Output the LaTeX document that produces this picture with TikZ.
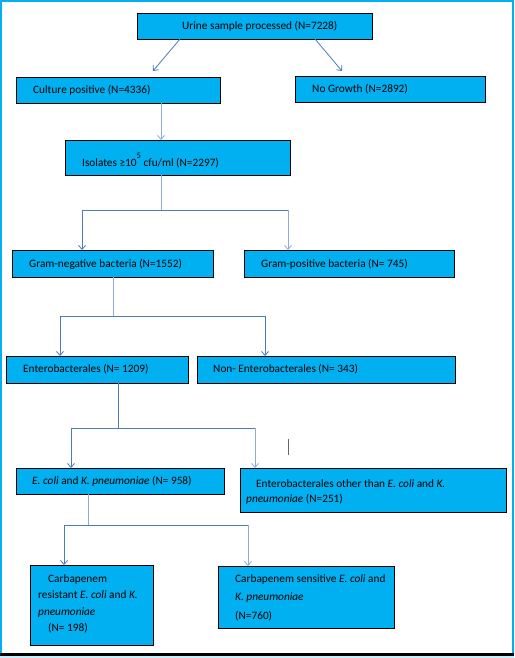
\documentclass[tikz,border=0pt]{standalone}
\usepackage{fontspec}
\setmainfont{Carlito}
\usetikzlibrary{arrows.meta}
\definecolor{boxfill}{HTML}{00B0F0}
\definecolor{frame}{HTML}{00B0F0}
\definecolor{lnA}{HTML}{4A7EBB}
\definecolor{lnB}{HTML}{8EACD6}
\definecolor{strip}{HTML}{C9EEFB}
\tikzset{
  box/.style={draw=black, line width=0.8pt, fill=boxfill, rectangle, inner sep=0pt, outer sep=0pt, anchor=north west},
  txt/.style={anchor=west, inner sep=0pt, font=\fontsize{11.3}{16.5}\selectfont, align=left},
  conA/.style={draw=lnA, line width=0.8pt},
  conB/.style={draw=lnB, line width=0.8pt},
  tipA/.style={-{Straight Barb[length=4pt,width=7pt]}}
}
\begin{document}
\begin{tikzpicture}[x=1pt,y=-1pt]
\useasboundingbox (0,0) rectangle (514,658);
% frame
\fill[white] (0,0) rectangle (514,658);
\fill[strip] (0,655.5) rectangle (514,658);
\draw[frame, line width=1.6pt] (0.8,654) -- (0.8,0.8) -- (513.2,0.8) -- (513.2,654);
\draw[black, line width=3pt] (0,654.5) -- (514,654.5);

% boxes
\node[box, minimum width=235, minimum height=26] (urine) at (137,13) {};
\node[box, minimum width=204, minimum height=26] (cult) at (16,77) {};
\node[box, minimum width=190, minimum height=26] (nog) at (295,76) {};
\node[box, minimum width=225, minimum height=35] (isol) at (65,140) {};
\node[box, minimum width=201, minimum height=27] (gneg) at (12,250) {};
\node[box, minimum width=210, minimum height=27] (gpos) at (244,250) {};
\node[box, minimum width=182, minimum height=27] (ent) at (6,356) {};
\node[box, minimum width=258, minimum height=27] (nent) at (197,356) {};
\node[box, minimum width=208, minimum height=26] (eck) at (16,468) {};
\node[box, minimum width=266, minimum height=44] (oth) at (240,468) {};
\node[box, minimum width=123, minimum height=80] (cr) at (30,565) {};
\node[box, minimum width=176, minimum height=62] (cs) at (218,566) {};

% texts
\node[txt] (turine) at (182,26) {Urine sample processed (N=7228)};
\node[txt] (tcult) at (33,90) {Culture positive (N=4336)};
\node[txt] (tnog) at (312,89) {No Growth (N=2892)};
\node[txt] (tisol) at (82,161) {Isolates ≥10\raisebox{8pt}{\fontsize{8.5}{8.5}\selectfont 5} cfu/ml (N=2297)};
\node[txt] (tgneg) at (29,264) {Gram-negative bacteria (N=1552)};
\node[txt] (tgpos) at (261,264) {Gram-positive bacteria (N= 745)};
\node[txt] (tent) at (23,369) {Enterobacterales (N= 1209)};
\node[txt] (tnent) at (213,369) {Non- Enterobacterales (N= 343)};
\node[txt] (teck) at (32,481) {\textit{E. coli} and \textit{K. pneumoniae} (N= 958)};
\node[txt, font=\fontsize{11.3}{15}\selectfont] (toth) at (246,491.5) {\hspace{10pt}Enterobacterales other than \textit{E. coli} and \textit{K.}\\\textit{pneumoniae} (N=251)};
\node[txt] (tcr) at (38,604) {\hspace{10pt}Carbapenem\\resistant \textit{E. coli} and \textit{K.}\\\textit{pneumoniae}\\\hspace{10pt}(N= 198)};
\node[txt, font=\fontsize{11.3}{18.5}\selectfont] (tcs) at (235,597.5) {Carbapenem sensitive \textit{E. coli} and\\\textit{K. pneumoniae}\\(N=760)};

% connectors
\coordinate (a1) at (153,71);
\coordinate (a2) at (342,71);
\draw[conA, tipA] ([xshift=43]urine.south west) -- (a1);
\draw[conA, tipA] ([xshift=178]urine.south west) -- (a2);

\coordinate (c1) at (161,0);
\draw[conB, tipA] (cult.south -| c1) -- (isol.north -| c1);

\coordinate (j1) at (161,210);
\coordinate (b1l) at (82,210);
\coordinate (b1r) at (288,210);
\draw[conB] (isol.south -| j1) -- (j1);
\draw[conA] (b1l) -- (b1r);
\draw[conA, tipA] (b1l) -- (gneg.north -| b1l);
\draw[conB, tipA] (b1r) -- (gpos.north -| b1r);

\coordinate (j2) at (113,316);
\coordinate (b2l) at (60,316);
\coordinate (b2r) at (265,316);
\draw[conB] (gneg.south -| j2) -- (j2);
\draw[conA] (b2l) -- (b2r);
\draw[conA, tipA] (b2l) -- (ent.north -| b2l);
\draw[conA, tipA] (b2r) -- (nent.north -| b2r);

\coordinate (j3) at (118,428);
\coordinate (b3l) at (71,428);
\coordinate (b3r) at (255,428);
\draw[conA] ([yshift=2]ent.south -| j3) -- (j3);
\draw[conA] (b3l) -- (b3r);
\draw[conA, tipA] (b3l) -- (eck.north -| b3l);
\draw[conB, tipA] (b3r) -- (oth.north -| b3r);

\coordinate (s1) at (288,439);
\coordinate (s2) at (288,455);
\draw[gray!80!black, line width=0.7pt] (s1) -- (s2);

\coordinate (j4) at (88,525);
\coordinate (b4l) at (64,525);
\coordinate (b4r) at (248,525);
\draw[conB] (eck.south -| j4) -- (j4);
\draw[conA] (b4l) -- (b4r);
\draw[conA, tipA] (b4l) -- (cr.north -| b4l);
\draw[conB, tipA] (b4r) -- (cs.north -| b4r);
\end{tikzpicture}
\end{document}
